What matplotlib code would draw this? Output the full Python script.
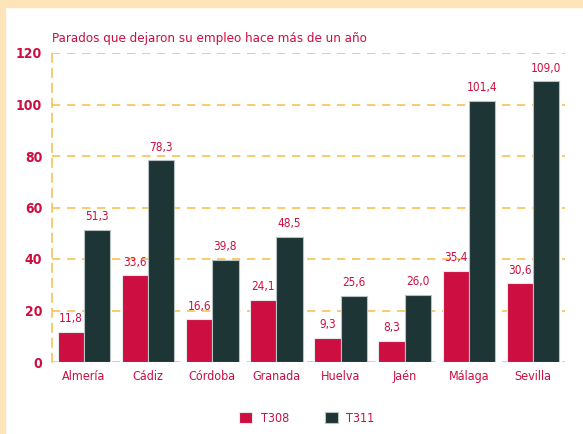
import matplotlib
matplotlib.use("Agg")
import matplotlib.pyplot as plt
import numpy as np
from matplotlib.patches import Rectangle

provincias = ["Almería", "Cádiz", "Córdoba", "Granada", "Huelva", "Jaén", "Málaga", "Sevilla"]
t308 = [11.8, 33.6, 16.6, 24.1, 9.3, 8.3, 35.4, 30.6]
t311 = [51.3, 78.3, 39.8, 48.5, 25.6, 26.0, 101.4, 109.0]
yticks = [0, 20, 40, 60, 80, 100, 120]

ROJO = "#CC0E40"
VERDE = "#1E3535"
NARANJA = "#F8C15A"

plt.rcParams['font.family'] = ['DejaVu Sans']
plt.rcParams['font.stretch'] = 'condensed'

fig = plt.figure(figsize=(5.83, 4.34), dpi=100)
# marco naranja arriba e izquierda
fig.patches.append(Rectangle((0, 1 - 7/434), 1, 7/434, transform=fig.transFigure, color="#FDE5B9", zorder=0))
fig.patches.append(Rectangle((0, 0), 5/583, 1, transform=fig.transFigure, color="#FDE5B9", zorder=0))

ax = fig.add_axes([52/583, 1 - 362/434, 513/583, 309/434])
x = np.arange(len(provincias))
w = 0.41
b1 = ax.bar(x - w/2, t308, w, color=ROJO, edgecolor="#e8e8e8", linewidth=0.8, zorder=3, label="T308")
b2 = ax.bar(x + w/2, t311, w, color=VERDE, edgecolor="#b8c0c0", linewidth=0.8, zorder=3, label="T311")

for bars, vals in [(b1, t308), (b2, t311)]:
    for r, v in zip(bars, vals):
        ax.text(r.get_x() + r.get_width()/2, v + 2.6, f"{v:.1f}".replace(".", ","),
                ha="center", va="bottom", color=ROJO, fontsize=8.5)

ax.set_xlim(-0.5, 7.5)
ax.set_ylim(0, 120)
ax.set_yticks(yticks)
ax.set_yticklabels([str(t) for t in yticks], color=ROJO, fontweight="bold", fontsize=10)
ax.set_xticks(x)
ax.set_xticklabels(provincias, color=ROJO, fontsize=9)
ax.tick_params(length=0, pad=6)
ax.tick_params(axis="y", pad=7)

for s in ["top", "right", "bottom"]:
    ax.spines[s].set_visible(False)
ax.spines["left"].set_color(NARANJA)
ax.spines["left"].set_linestyle((0, (5, 4)))
ax.spines["left"].set_linewidth(1.2)
for t in yticks:
    ax.axhline(t, color=NARANJA, linestyle=(0, (5, 4)), linewidth=1.2, zorder=1)

ax.text(0, 1.025, "Parados que dejaron su empleo hace más de un año", transform=ax.transAxes,
        color=ROJO, fontsize=9.5, ha="left", va="bottom")

fig.legend(handles=[b1, b2], loc="center", bbox_to_anchor=(307/583, 1 - 418/434), ncol=2,
           frameon=False, fontsize=9, labelcolor=ROJO, handlelength=1.0, handleheight=1.0,
           columnspacing=2.9, handletextpad=0.7)

fig.savefig("out.png", dpi=100)
